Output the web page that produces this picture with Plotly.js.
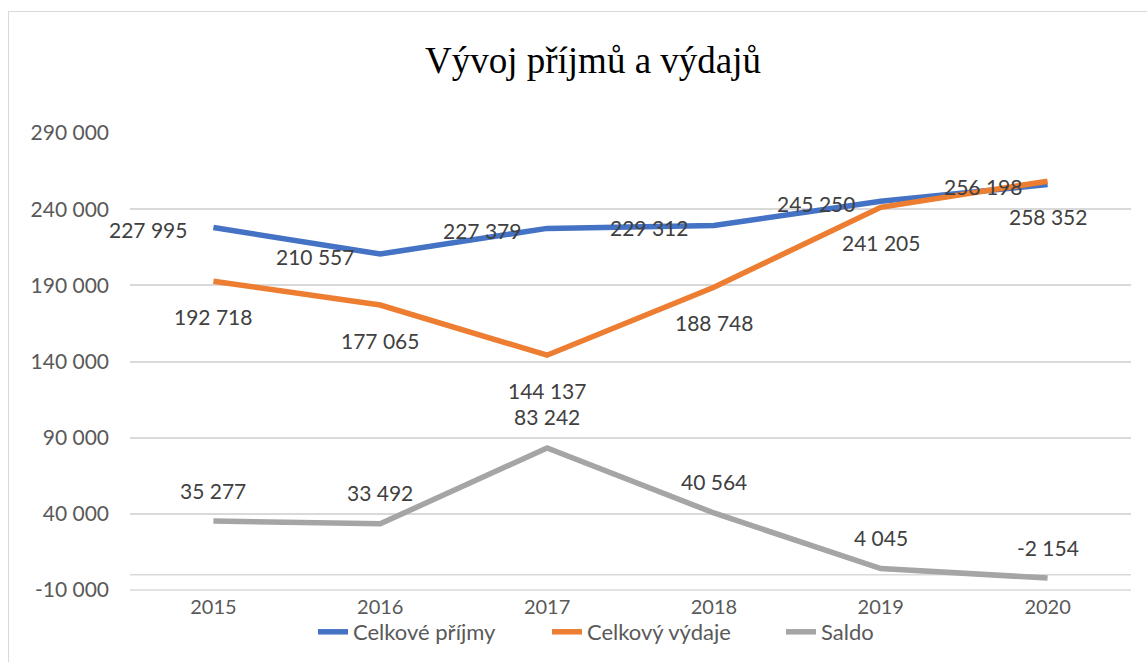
<!DOCTYPE html>
<html>
<head>
<meta charset="utf-8">
<script src="https://cdn.plot.ly/plotly-3.0.1.min.js"></script>
<style>
html,body{margin:0;padding:0;background:#fff;}
#chart{width:1147px;height:662px;position:relative;}
#frame{position:absolute;left:8px;top:11px;width:1200px;height:700px;border-left:1.5px solid #D9D9D9;border-top:1.5px solid #D9D9D9;pointer-events:none;z-index:5;}
</style>
</head>
<body>
<div id="chart"></div>
<div id="frame"></div>
<script>
const years = ['2015','2016','2017','2018','2019','2020'];
const prijmy = [227995, 210557, 227379, 229312, 245250, 256198];
const vydaje = [192718, 177065, 144137, 188748, 241205, 258352];
const saldo  = [35277, 33492, 83242, 40564, 4045, -2154];
const yTicks = [-10000, 40000, 90000, 140000, 190000, 240000, 290000];

function fmt(v){
  const s = Math.abs(v).toString().replace(/\B(?=(\d{3})+(?!\d))/g, ' ');
  return (v < 0 ? '-' : '') + s;
}

const labelFont = {family: 'Lato, sans-serif', size: 21, color: '#404040'};

const series = [
  {name: 'Celkové příjmy', y: prijmy, color: '#4472C4', lab: {xanchor: 'right', yanchor: 'middle', xshift: -24, yshift: -2}},
  {name: 'Celkový výdaje', y: vydaje, color: '#ED7D31', lab: {xanchor: 'center', yanchor: 'middle', xshift: 0, yshift: -35}},
  {name: 'Saldo', y: saldo, color: '#A5A5A5', lab: {xanchor: 'center', yanchor: 'middle', xshift: 0, yshift: 31}}
];

const traces = series.map(s => ({
  type: 'scatter', mode: 'lines', name: s.name,
  x: years, y: s.y,
  line: {color: s.color, width: 5.5},
  hoverinfo: 'x+y'
}));

const annotations = [];
series.forEach(s => {
  s.y.forEach((v, i) => {
    annotations.push(Object.assign({
      x: i, y: v, xref: 'x', yref: 'y',
      text: fmt(v), showarrow: false, font: labelFont
    }, s.lab));
  });
});

const gridStyle = {color: '#D9D9D9', width: 1.5};

const layout = {
  width: 1147, height: 662,
  margin: {l: 130, r: 16, t: 133, b: 72, autoexpand: false},
  paper_bgcolor: '#fff', plot_bgcolor: '#fff',
  title: {
    text: 'Vývoj příjmů a výdajů',
    font: {family: '"Liberation Serif", "Times New Roman", serif', size: 37, color: '#000'},
    x: 0.517, xref: 'container', xanchor: 'center',
    y: 0.91, yref: 'container', yanchor: 'middle'
  },
  xaxis: {
    type: 'category', range: [-0.5, 5.5], automargin: false,
    showgrid: false, showline: false, zeroline: false, ticks: '',
    ticklabelstandoff: 3,
    tickfont: {family: 'Lato, sans-serif', size: 20, color: '#595959'},
    fixedrange: true
  },
  yaxis: {
    range: [-10000, 290000], automargin: false,
    tickvals: yTicks, ticktext: yTicks.map(fmt),
    showgrid: true, gridcolor: '#D9D9D9', gridwidth: 1.5,
    zeroline: false,
    showline: false, ticks: '',
    ticklabelstandoff: 20,
    tickfont: {family: 'Lato, sans-serif', size: 21, color: '#595959'},
    fixedrange: true
  },
  shapes: [
    {type: 'line', xref: 'paper', yref: 'y', x0: 0, x1: 1, y0: 0, y1: 0, line: gridStyle, layer: 'below'},
    {type: 'line', xref: 'paper', yref: 'paper', x0: 0, x1: 1, y0: 0, y1: 0, line: gridStyle, layer: 'below'}
  ],
  showlegend: true,
  legend: {
    orientation: 'h', xref: 'container', yref: 'container',
    x: 313/1147, xanchor: 'left', y: 1 - 632/662, yanchor: 'middle',
    font: {family: 'Lato, sans-serif', size: 22, color: '#595959'},
    bgcolor: 'rgba(0,0,0,0)', itemwidth: 30, entrywidth: 189, entrywidthmode: 'pixels'
  },
  annotations: annotations
};

Plotly.newPlot('chart', traces, layout, {displayModeBar: false});
</script>
</body>
</html>
